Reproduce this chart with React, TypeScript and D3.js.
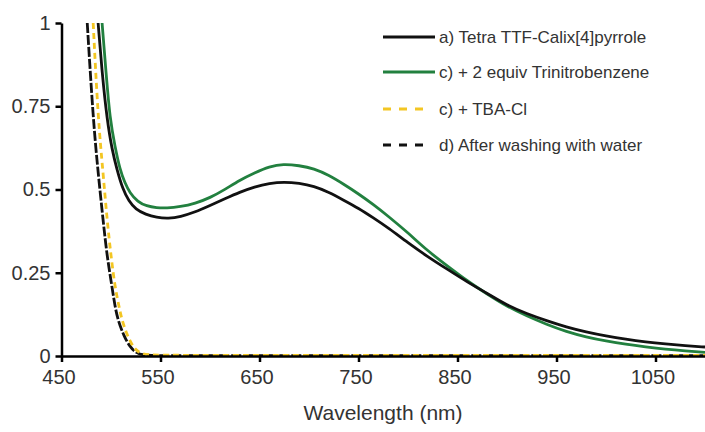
import * as d3 from 'd3';
import { useEffect, useRef } from 'react';

// wavelength (nm) / absorbance pairs
const tetraWl = [487, 491, 496, 501, 506, 512, 518, 525, 535, 546, 558, 570, 585, 600, 615, 630, 645, 660, 675, 690, 705, 720, 735, 750, 765, 780, 800, 820, 840, 860, 880, 900, 920, 940, 960, 980, 1000, 1020, 1040, 1060, 1080, 1100];
const tetraAbs = [1.0, 0.85, 0.71, 0.62, 0.56, 0.5, 0.465, 0.44, 0.425, 0.416, 0.413, 0.418, 0.432, 0.452, 0.472, 0.492, 0.508, 0.519, 0.523, 0.519, 0.51, 0.492, 0.468, 0.444, 0.415, 0.385, 0.34, 0.298, 0.26, 0.222, 0.188, 0.152, 0.127, 0.106, 0.087, 0.072, 0.06, 0.05, 0.042, 0.036, 0.031, 0.027];

const tnbWl = [491, 495, 499, 504, 509, 514, 519, 527, 536, 546, 556, 570, 585, 600, 615, 630, 645, 660, 674, 690, 705, 720, 735, 750, 765, 780, 800, 820, 840, 860, 880, 900, 920, 940, 960, 980, 1000, 1020, 1040, 1060, 1080, 1100];
const tnbAbs = [1.0, 0.85, 0.71, 0.63, 0.56, 0.52, 0.49, 0.463, 0.45, 0.445, 0.444, 0.448, 0.458, 0.475, 0.5, 0.528, 0.55, 0.569, 0.577, 0.572, 0.563, 0.543, 0.516, 0.487, 0.455, 0.42, 0.37, 0.315, 0.27, 0.225, 0.186, 0.149, 0.12, 0.095, 0.073, 0.057, 0.045, 0.035, 0.027, 0.02, 0.015, 0.011];

const tbaWl = [482, 487, 492, 496, 500, 504, 508, 511, 516, 522, 528, 536, 560, 650, 750, 850, 950, 1050, 1100];
const tbaAbs = [1.0, 0.71, 0.55, 0.41, 0.3, 0.208, 0.15, 0.108, 0.065, 0.028, 0.01, 0.003, 0.002, 0.002, 0.002, 0.002, 0.002, 0.002, 0.002];

const washWl = [476, 482, 487, 492, 496, 501, 504, 507, 513, 519, 525, 532, 550, 650, 750, 850, 950, 1050, 1100];
const washAbs = [1.0, 0.71, 0.55, 0.408, 0.3, 0.208, 0.15, 0.108, 0.06, 0.028, 0.01, 0.002, 0.001, 0.001, 0.001, 0.001, 0.001, 0.001, 0.001];

const seriesNames = ['a) Tetra TTF-Calix[4]pyrrole', 'c) + 2 equiv Trinitrobenzene', 'c) + TBA-Cl', 'd) After washing with water'];
const xTicks = [450, 550, 650, 750, 850, 950, 1050];
const yTicks = [0, 0.25, 0.5, 0.75, 1];

export default function App() {
  const ref = useRef<SVGSVGElement | null>(null);

  useEffect(() => {
    if (!ref.current) return;
    const svg = d3.select(ref.current);
    svg.selectAll('*').remove();
    const width = 705;
    const height = 432;
    const font = '"Liberation Sans", Arial, sans-serif';

    const x = d3.scaleLinear().domain([450, 1100]).range([61.5, 705]);
    const y = d3.scaleLinear().domain([0, 1]).range([356, 23]);

    const series = [
      { wl: tetraWl, abs: tetraAbs, color: '#111111', dash: null },
      { wl: tnbWl, abs: tnbAbs, color: '#22803f', dash: null },
      { wl: tbaWl, abs: tbaAbs, color: '#f3c623', dash: '6,4' },
      { wl: washWl, abs: washAbs, color: '#111111', dash: '10,2' },
    ];
    const drawOrder = [1, 0, 3, 2];

    const line = d3
      .line<[number, number]>()
      .x((d) => x(d[0]))
      .y((d) => y(d[1]))
      .curve(d3.curveBasis);

    const g = svg.append('g');
    drawOrder.forEach((i) => {
      const s = series[i];
      const pts = s.wl.map((w, k) => [w, s.abs[k]] as [number, number]);
      g.append('path')
        .attr('d', line(pts))
        .attr('fill', 'none')
        .attr('stroke', s.color)
        .attr('stroke-width', 2.8)
        .attr('stroke-dasharray', s.dash);
    });

    // axes
    const xAxis = svg
      .append('g')
      .attr('transform', `translate(0, ${y(0)})`)
      .call(d3.axisBottom(x).tickValues(xTicks).tickFormat((d) => String(d)).tickSize(6).tickSizeOuter(0).tickPadding(8));
    const yAxis = svg
      .append('g')
      .attr('transform', `translate(${x(450)}, 0)`)
      .call(d3.axisLeft(y).tickValues(yTicks).tickFormat((d) => String(d)).tickSize(6).tickSizeOuter(0).tickPadding(5));

    [xAxis, yAxis].forEach((a) => {
      a.select('.domain').attr('stroke', '#000').attr('stroke-width', 2.5);
      a.selectAll('.tick line').attr('stroke', '#000').attr('stroke-width', 2.5);
      a.selectAll('.tick text').attr('fill', '#333').attr('font-size', 20).attr('font-family', font);
    });
    xAxis.selectAll('.tick text').attr('dx', '-3');

    svg
      .append('text')
      .attr('x', 383)
      .attr('y', 420)
      .attr('text-anchor', 'middle')
      .attr('fill', '#333')
      .attr('font-size', 21)
      .attr('font-family', font)
      .text('Wavelength (nm)');

    // legend
    const legendRows = [37, 72, 109, 145];
    const legendStyle = [
      { color: '#111111', dash: null, x2: 435 },
      { color: '#22803f', dash: null, x2: 435 },
      { color: '#f3c623', dash: '8,8', x2: 424 },
      { color: '#111111', dash: '8,8', x2: 424 },
    ];
    const legend = svg.append('g');
    seriesNames.forEach((name, i) => {
      const ly = legendRows[i];
      legend
        .append('line')
        .attr('x1', 383)
        .attr('x2', legendStyle[i].x2)
        .attr('y1', ly)
        .attr('y2', ly)
        .attr('stroke', legendStyle[i].color)
        .attr('stroke-width', 3)
        .attr('stroke-dasharray', legendStyle[i].dash);
      legend
        .append('text')
        .attr('x', 439)
        .attr('y', ly + 6)
        .attr('fill', '#333')
        .attr('font-size', 17)
        .attr('font-family', font)
        .text(name);
    });

    svg.attr('viewBox', `0 0 ${width} ${height}`).attr('width', width).attr('height', height);
  }, []);

  return <svg ref={ref} style={{ position: 'absolute', left: 0, top: 0, background: '#fff' }} />;
}
